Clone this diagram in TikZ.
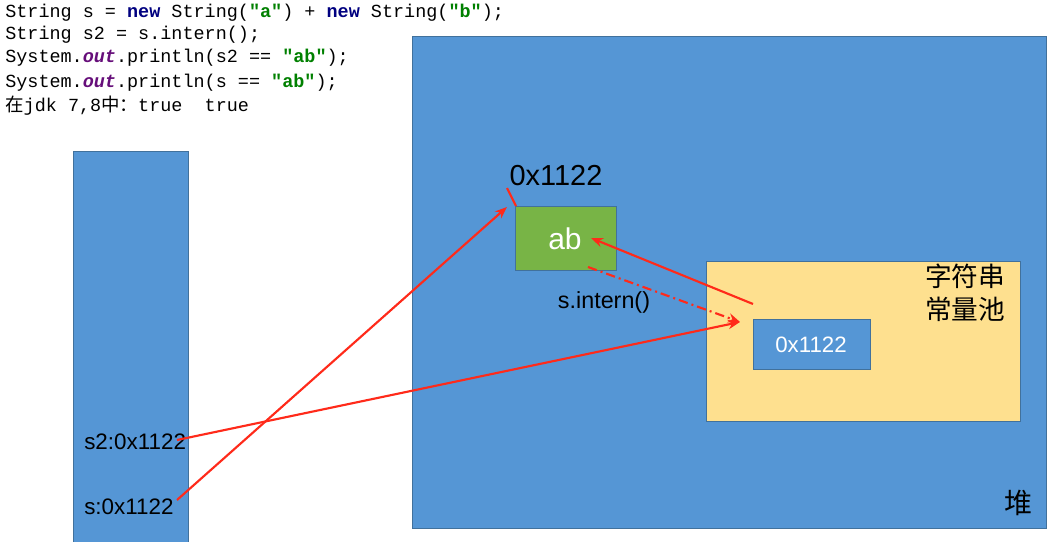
\documentclass[tikz,border=0pt]{standalone}
\usepackage{fontspec}
\setmainfont{Liberation Sans}
\setmonofont{Liberation Mono}
\newfontfamily\cjk{Noto Sans CJK SC}
\usetikzlibrary{arrows.meta}
\definecolor{boxblue}{HTML}{5596D5}
\definecolor{boxedge}{HTML}{41719C}
\definecolor{abgreen}{HTML}{78B446}
\definecolor{poolyellow}{HTML}{FEE08F}
\definecolor{arrowred}{HTML}{FF2A1A}
\definecolor{kwblue}{HTML}{000080}
\definecolor{strgreen}{HTML}{008000}
\definecolor{fieldpurple}{HTML}{660E7A}
\newcommand{\kw}[1]{\textcolor{kwblue}{\bfseries #1}}
\newcommand{\st}[1]{\textcolor{strgreen}{\bfseries #1}}
\newcommand{\fd}[1]{\textcolor{fieldpurple}{\bfseries\itshape #1}}
\tikzset{
  code/.style={anchor=base west, inner sep=0pt, font=\ttfamily\fontsize{13.85}{16}\selectfont},
  region/.style={draw=boxedge, line width=0.75pt, fill=boxblue, anchor=north west, inner sep=0pt, outer sep=0pt},
  lbl/.style={inner sep=0pt, text=black},
  ref/.style={draw=arrowred, line width=1.6pt, -{Stealth[length=9pt,width=7pt]}},
  dashref/.style={ref, dash pattern=on 7pt off 3pt on 1.5pt off 3pt}
}
\begin{document}
\begin{tikzpicture}[x=0.75pt,y=-0.75pt]
\useasboundingbox (0,0) rectangle (1047,542);
\fill[white] (0,0) rectangle (1047,542);

% code
\node[code] (l1) at (5,18) {String s = \kw{new} String(\st{"a"}) + \kw{new} String(\st{"b"});};
\node[code] (l2) at (5,40) {String s2 = s.intern();};
\node[code] (l3) at (5,63) {System.\fd{out}.println(s2 == \st{"ab"});};
\node[code] (l4) at (5,88) {System.\fd{out}.println(s == \st{"ab"});};
\node[code] (l5) at (5,112) {{\cjk 在}jdk 7,8{\cjk 中：}true\ \ true};

% stack
\node[region, minimum width=86.25pt, minimum height=296pt] (stack) at (73,152) {};
% heap
\node[region, minimum width=475.5pt, minimum height=368.25pt] (heap) at (412,37) {};
% green object
\node[region, fill=abgreen, minimum width=75.75pt, minimum height=48pt] (obj) at (515,206) {};
% pool
\node[region, fill=poolyellow, minimum width=235.5pt, minimum height=120pt] (pool) at (706,261) {};
% pool entry
\node[region, minimum width=87.75pt, minimum height=37.5pt] (entry) at (753,319) {};

% texts
\node[lbl, font=\fontsize{21.7}{24}\selectfont] (addr) at (556,176) {0x1122};
\node[lbl, text=white, font=\fontsize{22.5}{24}\selectfont] (ab) at (565,239) {ab};
\node[lbl, text=white, font=\fontsize{16.7}{20}\selectfont] (entrytxt) at (811,345) {0x1122};
\node[lbl, font=\fontsize{17.5}{20}\selectfont] (intern) at (604,302) {s.intern()};
\node[lbl, anchor=west, font=\fontsize{16.8}{20}\selectfont] (s2) at (84,442) {s2:0x1122};
\node[lbl, anchor=west, font=\fontsize{16.8}{20}\selectfont] (s) at (84,507) {s:0x1122};
\node[lbl, align=center, font=\cjk\fontsize{20}{24.75}\selectfont] (pooltxt) at (965,293) {字符串\\常量池};
\node[lbl, font=\cjk\fontsize{21}{24}\selectfont] (heaptxt) at (1018,503) {堆};

% connector anchor points
\coordinate (sOut) at (177,500);
\coordinate (s2Out) at (177,440);
\coordinate (objTip) at (507,207);
\coordinate (addrFoot) at (507,188);
\coordinate (objCorner) at (516,206);
\coordinate (entryIn) at (740,322);
\coordinate (poolOut) at (753,304);
\coordinate (abIn) at (591,238);
\coordinate (objBottom) at (588,267);

\draw[ref] (sOut) -- (objTip);
\draw[draw=arrowred, line width=1.6pt] (addrFoot) -- (objCorner);
\draw[ref] (s2Out) -- (entryIn);
\draw[ref] (poolOut) -- (abIn);
\draw[dashref] (objBottom) -- (entryIn);
\end{tikzpicture}
\end{document}
